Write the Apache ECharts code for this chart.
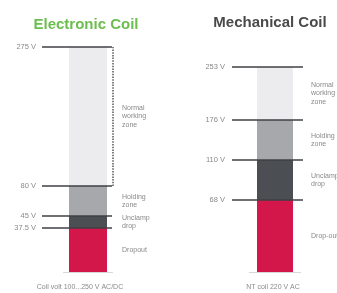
<!DOCTYPE html>
<html>
<head>
<meta charset="utf-8">
<script src="https://cdn.jsdelivr.net/npm/echarts@6/dist/echarts.min.js"></script>
<style>
html, body { margin: 0; padding: 0; background: #fff; }
#chart { width: 337px; height: 293px; }
</style>
</head>
<body>
<div id="chart"></div>
<script>
// zones, bottom to top
var zoneColors = ['#d3174b', '#4b4e52', '#a6a8ab', '#ececee'];

// electronic coil
var elecLevels = ['37.5 V', '45 V', '80 V', '275 V'];
var elecBands = [44, 12, 30, 139]; // drawn height of each zone, the picture is not to scale
var elecZones = ['Dropout', 'Unclamp\ndrop', 'Holding\nzone', 'Normal\nworking\nzone'];

// mechanical coil
var mechLevels = ['68 V', '110 V', '176 V', '253 V'];
var mechBands = [72, 40, 40, 53];
var mechZones = ['Drop-out', 'Unclamp\ndrop', 'Holding\nzone', 'Normal\nworking\nzone'];

function cumulate(arr) {
    var out = [], s = 0;
    for (var i = 0; i < arr.length; i++) { s += arr[i]; out.push(s); }
    return out;
}

var elecTops = cumulate(elecBands);
var mechTops = cumulate(mechBands);

function zoneSeries(bands, names, idx, stack, labelGap) {
    return bands.map(function (v, k) {
        return {
            type: 'bar',
            name: names[k],
            xAxisIndex: idx,
            yAxisIndex: idx,
            stack: stack,
            barWidth: '100%',
            data: [v],
            itemStyle: { color: zoneColors[k] },
            label: {
                show: true,
                position: 'right',
                distance: labelGap,
                formatter: names[k],
                color: '#8a8a8a',
                fontSize: 7,
                lineHeight: 8.5,
                align: 'left'
            },
            z: 2
        };
    });
}

// threshold lines with their voltage on the left
function levelSeries(tops, levels, idx, ext) {
    return {
        type: 'custom',
        xAxisIndex: idx,
        yAxisIndex: idx,
        data: tops.map(function (t) { return [0, t]; }),
        z: 5,
        renderItem: function (params, api) {
            var p = api.coord([api.value(0), api.value(1)]);
            var w = api.size([1, 0])[0];
            var x0 = p[0] - w / 2 - ext[0];
            var x1 = p[0] + w / 2 + ext[1];
            var children = [
                { type: 'line', shape: { x1: x0, y1: p[1], x2: x1, y2: p[1] },
                  style: { stroke: '#3f4144', lineWidth: 1.3 } },
                { type: 'text', x: x0 - ext[2], y: p[1],
                  style: { text: levels[params.dataIndex], fill: '#8a8a8a', fontSize: 7.5,
                           align: 'right', verticalAlign: 'middle', fontFamily: 'Liberation Sans' } }
            ];
            return { type: 'group', children: children };
        }
    };
}

// thin line under each bar
function baseSeries(idx, ext) {
    return {
        type: 'custom',
        xAxisIndex: idx,
        yAxisIndex: idx,
        data: [[0, 0]],
        z: 1,
        renderItem: function (params, api) {
            var p = api.coord([0, 0]);
            var w = api.size([1, 0])[0];
            return { type: 'line', shape: { x1: p[0] - w / 2 - ext, y1: p[1] + 0.5, x2: p[0] + w / 2 + ext, y2: p[1] + 0.5 },
                     style: { stroke: '#d8d8d8', lineWidth: 1 } };
        }
    };
}

// dotted bracket along the normal working zone
var bracketSeries = {
    type: 'custom',
    xAxisIndex: 0,
    yAxisIndex: 0,
    data: [[0, elecTops[2], elecTops[3]]],
    z: 5,
    renderItem: function (params, api) {
        var a = api.coord([0, api.value(1)]);
        var b = api.coord([0, api.value(2)]);
        var w = api.size([1, 0])[0];
        var x = a[0] + w / 2 + 6;
        return { type: 'line', shape: { x1: x, y1: a[1], x2: x, y2: b[1] },
                 style: { stroke: '#4a4a4a', lineWidth: 1.4, lineDash: [1.5, 1.2] } };
    }
};

var hidden = { show: false };

var option = {
    animation: false,
    textStyle: { fontFamily: 'Liberation Sans' },
    title: [
        { text: 'Electronic Coil', left: 86, top: 17, textAlign: 'center', padding: 0,
          textStyle: { color: '#6cbf4f', fontSize: 15, fontWeight: 'bold', fontFamily: 'Liberation Sans' } },
        { text: 'Mechanical Coil', left: 270, top: 15, textAlign: 'center', padding: 0,
          textStyle: { color: '#4a4a4a', fontSize: 15, fontWeight: 'bold', fontFamily: 'Liberation Sans' } },
        { text: 'Coil volt 100...250 V AC/DC', left: 80, top: 284, textAlign: 'center', padding: 0,
          textStyle: { color: '#8a8a8a', fontSize: 7, fontWeight: 'normal', fontFamily: 'Liberation Sans' } },
        { text: 'NT coil 220 V AC', left: 273, top: 284, textAlign: 'center', padding: 0,
          textStyle: { color: '#8a8a8a', fontSize: 7, fontWeight: 'normal', fontFamily: 'Liberation Sans' } }
    ],
    grid: [
        { left: 69, width: 38, top: 47, bottom: 21 },
        { left: 257, width: 36, top: 67, bottom: 21 }
    ],
    xAxis: [
        { type: 'category', gridIndex: 0, data: ['Electronic Coil'], show: false },
        { type: 'category', gridIndex: 1, data: ['Mechanical Coil'], show: false }
    ],
    yAxis: [
        { type: 'value', gridIndex: 0, min: 0, max: elecTops[elecTops.length - 1], show: false, splitLine: hidden },
        { type: 'value', gridIndex: 1, min: 0, max: mechTops[mechTops.length - 1], show: false, splitLine: hidden }
    ],
    series: [].concat(
        [baseSeries(0, 6), baseSeries(1, 8)],
        zoneSeries(elecBands, elecZones, 0, 'elec', 15),
        zoneSeries(mechBands, mechZones, 1, 'mech', 18),
        [levelSeries(elecTops, elecLevels, 0, [27, 5, 6]),
         levelSeries(mechTops, mechLevels, 1, [25, 10, 7]),
         bracketSeries]
    )
};

var myChart = echarts.init(document.getElementById('chart'));
myChart.setOption(option);
</script>
</body>
</html>
